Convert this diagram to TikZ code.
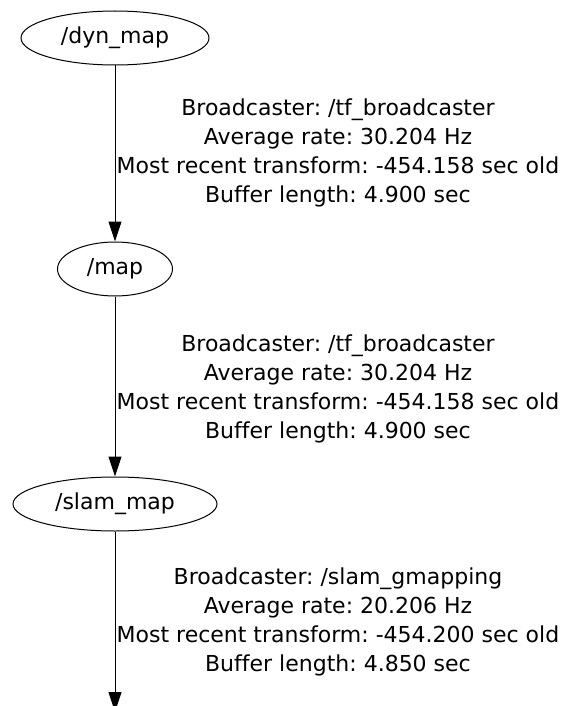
\documentclass[tikz,border=0pt]{standalone}
\usepackage{fontspec}
\setmainfont[Ligatures=CommonOff]{DejaVu Sans}
\frenchspacing
\usetikzlibrary{shapes.geometric,arrows.meta}

\begin{document}
\begin{tikzpicture}[x=1pt, y=-1pt,
    font=\fontsize{22}{29}\selectfont,
    frame/.style={draw, ellipse, line width=1pt, inner sep=0pt, minimum height=54pt},
    tf/.style={align=center},
    link/.style={-{Triangle[length=20pt,width=13pt]}, line width=1pt}]
    \useasboundingbox (0,0) rectangle (563,706);

    \node[frame, minimum width=188pt] (dyn-map) at (115,38) {/dyn\_map};
    \node[frame, minimum width=115pt] (map) at (115,269) {/map};
    \node[frame, minimum width=204pt] (slam-map) at (115,504) {/slam\_map};
    \coordinate (odom) at (115,712);

    \draw[link] (dyn-map) -- (map);
    \draw[link] (map) -- (slam-map);
    \draw[link] (slam-map) -- (odom);

    \node[tf] (dyn-map-tf) at (338,153) {Broadcaster: /tf\_broadcaster\\Average rate: 30.204 Hz\\Most recent transform: -454.158 sec old\\Buffer length: 4.900 sec};
    \node[tf] (map-tf) at (338,389) {Broadcaster: /tf\_broadcaster\\Average rate: 30.204 Hz\\Most recent transform: -454.158 sec old\\Buffer length: 4.900 sec};
    \node[tf] (slam-map-tf) at (338,622) {Broadcaster: /slam\_gmapping\\Average rate: 20.206 Hz\\Most recent transform: -454.200 sec old\\Buffer length: 4.850 sec};
\end{tikzpicture}
\end{document}
